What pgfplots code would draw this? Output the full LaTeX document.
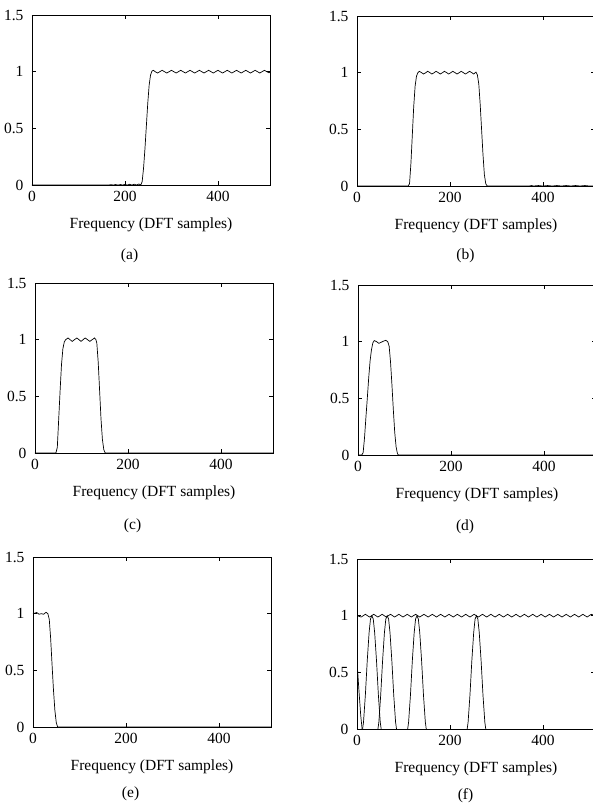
\documentclass[border=0pt]{standalone}
\usepackage{fontspec}
\setmainfont{Liberation Serif}
\usepackage{pgfplots}
\pgfplotsset{compat=1.18}

\tikzset{
  sub/.style={font=\fontsize{15.5}{18}\selectfont},
  curve/.style={black, line width=0.7pt, mark=none},
}
\pgfplotsset{
  dft/.style={
    scale only axis, width=238pt, height=170pt,
    xmin=0, xmax=512, ymin=0, ymax=1.5,
    xtick={0,200,400}, ytick={0,0.5,1,1.5},
    tick align=inside, major tick length=4pt,
    axis line style={line width=0.6pt},
    tick style={line width=0.6pt, black},
    /pgf/number format/assume math mode=true,
    ticklabel style={font=\fontsize{15.5}{18}\selectfont},
    xlabel={Frequency (DFT samples)},
    every axis x label/.style={at={(axis description cs:0.5,0)}, anchor=center, yshift=-40pt, font=\fontsize{15.5}{18}\selectfont},
    xticklabel style={yshift=-3pt},
    yticklabel style={xshift=-5pt},
    clip mode=individual,
  },
}

\begin{document}
\begin{tikzpicture}
\useasboundingbox (0,0) rectangle (592pt,-806pt);

% (a) high pass
\begin{axis}[dft, at={(32pt,-15pt)}, anchor=north west]
\addplot[curve] coordinates {(0,0)(165,0)(170,0.003)(175,0)(180,0.004)(185,0)(190,0.004)(195,0)(200,0.005)(205,0)(210,0.006)(215,0)(220,0.007)(225,0)(230,0.009)(234,0)(237,0.03)(240,0.15)(243,0.32)(246,0.52)(249,0.72)(252,0.88)(255,0.97)(258,1.005)(261,1.012)(265,1.0)(270,0.988)(275,1.0)(280,1.012)(285,1.0)(290,0.988)(295,1.0)(300,1.012)(305,1.0)(310,0.988)(315,1.0)(320,1.012)(325,1.0)(330,0.988)(335,1.0)(340,1.012)(345,1.0)(350,0.988)(355,1.0)(360,1.012)(365,1.0)(370,0.988)(375,1.0)(380,1.012)(385,1.0)(390,0.988)(395,1.0)(400,1.012)(405,1.0)(410,0.988)(415,1.0)(420,1.012)(425,1.0)(430,0.988)(435,1.0)(440,1.012)(445,1.0)(450,0.988)(455,1.0)(460,1.012)(465,1.0)(470,0.988)(475,1.0)(480,1.012)(485,1.0)(490,0.988)(495,1.0)(500,1.012)(505,1.0)(510,0.99)(512,0.995)};
\node[sub] at (rel axis cs:0.41,-0.415) {(a)};
\end{axis}

% (b) band 128-256
\begin{axis}[dft, at={(357pt,-16pt)}, anchor=north west]
\addplot[curve] coordinates {(0,0)(110,0)(113,0.02)(116,0.2)(119,0.45)(122,0.7)(125,0.88)(128,0.97)(131,1.0)(134,1.012)(139,1.0)(143,0.988)(148,1.0)(152,1.012)(157,1.0)(161,0.988)(166,1.0)(170,1.012)(175,1.0)(179,0.988)(184,1.0)(188,1.012)(193,1.0)(197,0.988)(202,1.0)(206,1.012)(211,1.0)(215,0.988)(220,1.0)(224,1.012)(229,1.0)(233,0.988)(238,1.0)(242,1.012)(247,1.0)(251,0.988)(256,1.005)(259,0.98)(262,0.9)(265,0.72)(268,0.5)(271,0.28)(274,0.1)(277,0.02)(280,0)(370,0)(375,0.004)(380,0)(390,0.004)(400,0)(410,0.004)(420,0)(430,0.004)(440,0)(450,0.004)(460,0)(470,0.004)(480,0)(490,0.004)(500,0)(512,0)};
\node[sub] at (rel axis cs:0.456,-0.41) {(b)};
\end{axis}

% (c) band 64-128
\begin{axis}[dft, at={(35pt,-283pt)}, anchor=north west]
\addplot[curve] coordinates {(0,0)(45,0)(48,0.05)(51,0.3)(54,0.55)(57,0.78)(60,0.92)(63,0.98)(66,1.0)(71,1.015)(80,0.985)(90,1.015)(99,0.985)(108,1.015)(118,0.985)(128,1.015)(131,1.0)(133,0.97)(136,0.8)(139,0.55)(142,0.3)(145,0.12)(148,0.03)(151,0)(512,0)};
\node[sub] at (rel axis cs:0.41,-0.43) {(c)};
\end{axis}

% (d) band 32-64
\begin{axis}[dft, at={(358pt,-285pt)}, anchor=north west]
\addplot[curve] coordinates {(0,0)(8,0)(11,0.02)(14,0.15)(17,0.33)(20,0.5)(23,0.68)(26,0.83)(29,0.93)(32,0.99)(35,1.01)(40,1.0)(45,0.985)(50,0.995)(55,1.005)(60,1.012)(64,1.0)(67,0.96)(70,0.82)(73,0.62)(76,0.4)(79,0.2)(82,0.07)(85,0.01)(87,0)(512,0)};
\node[sub] at (rel axis cs:0.45,-0.42) {(d)};
\end{axis}

% (e) low pass
\begin{axis}[dft, at={(33pt,-557pt)}, anchor=north west]
\addplot[curve] coordinates {(0,1.0)(4,1.005)(8,1.01)(13,0.995)(18,1.0)(23,0.995)(28,1.012)(32,1.0)(35,0.95)(38,0.78)(41,0.55)(44,0.33)(47,0.15)(50,0.04)(53,0)(512,0)};
\node[sub] at (rel axis cs:0.41,-0.39) {(e)};
\end{axis}

% (f) individual bands and their sum
\begin{axis}[dft, at={(357pt,-559pt)}, anchor=north west]
\addplot[curve] coordinates {(0,1.0)(9,0.988)(18,1.012)(27,0.988)(36,1.012)(45,0.988)(54,1.012)(63,0.988)(72,1.012)(81,0.988)(90,1.012)(99,0.988)(108,1.012)(117,0.988)(126,1.012)(135,0.988)(144,1.012)(153,0.988)(162,1.012)(171,0.988)(180,1.012)(189,0.988)(198,1.012)(207,0.988)(216,1.012)(225,0.988)(234,1.012)(243,0.988)(252,1.012)(261,0.988)(270,1.012)(279,0.988)(288,1.012)(297,0.988)(306,1.012)(315,0.988)(324,1.012)(333,0.988)(342,1.012)(351,0.988)(360,1.012)(369,0.988)(378,1.012)(387,0.988)(396,1.012)(405,0.988)(414,1.012)(423,0.988)(432,1.012)(441,0.988)(450,1.012)(459,0.988)(468,1.012)(477,0.988)(486,1.012)(495,0.988)(504,1.012)(512,1.0)};
\addplot[curve] coordinates {(0,0)(512,0)};
\addplot[curve] coordinates {(0,0.6)(4,0.35)(8,0.12)(11,0)};
\addplot[curve] coordinates {(12,0)(14,0.06)(18,0.3)(22,0.6)(26,0.85)(29,0.97)(32,1)(35,0.97)(38,0.85)(42,0.6)(46,0.3)(50,0.06)(52,0)};
\addplot[curve] coordinates {(45,0)(47,0.06)(51,0.3)(55,0.6)(59,0.85)(62,0.97)(65,1)(68,0.97)(71,0.85)(75,0.6)(79,0.3)(83,0.06)(85,0)};
\addplot[curve] coordinates {(109,0)(111,0.06)(115,0.3)(119,0.6)(123,0.85)(126,0.97)(129,1)(132,0.97)(135,0.85)(139,0.6)(143,0.3)(147,0.06)(149,0)};
\addplot[curve] coordinates {(237,0)(239,0.06)(243,0.3)(247,0.6)(251,0.85)(254,0.97)(257,1)(260,0.97)(263,0.85)(267,0.6)(271,0.3)(275,0.06)(277,0)};
\node[sub] at (rel axis cs:0.456,-0.39) {(f)};
\end{axis}
\end{tikzpicture}
\end{document}
